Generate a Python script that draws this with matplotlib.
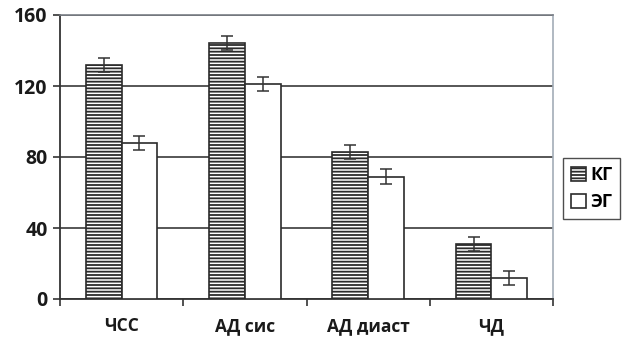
import numpy as np
from matplotlib import pyplot as plt
import matplotlib as mpl

categories = ['ЧСС', 'АД сис', 'АД диаст', 'ЧД']
kg_values = [132, 144, 83, 31]
eg_values = [88, 121, 69, 12]
kg_err = [4, 4, 4, 4]
eg_err = [4, 4, 4, 4]
y_ticks = [0, 40, 80, 120, 160]

plt.rcParams['font.family'] = ['Open Sans', 'DejaVu Sans']
plt.rcParams['font.weight'] = 'bold'
plt.rcParams['hatch.color'] = '#9ea4ae'
plt.rcParams['hatch.linewidth'] = 1.3

fig = plt.figure(figsize=(6.24, 3.45), dpi=100)
ax = fig.add_axes([60/624, 1-299/345, (553-60)/624, (299-15)/345])

x = np.arange(len(categories))
w = 0.29
err_kw = dict(ecolor='#333333', elinewidth=1.1, capsize=4, capthick=1.1)
ax.bar(x - w/2, kg_values, w, yerr=kg_err, color='white', edgecolor='#2b2b2b',
       linewidth=1.2, hatch='-----', label='КГ', error_kw=err_kw, zorder=3)
ax.bar(x + w/2, eg_values, w, yerr=eg_err, color='white', edgecolor='#2b2b2b',
       linewidth=1.2, label='ЭГ', error_kw=err_kw, zorder=3)

ax.set_xlim(-0.5, len(categories) - 0.5)
ax.set_ylim(0, 160)
ax.set_yticks(y_ticks)
ax.set_yticklabels([str(v) for v in y_ticks], fontsize=14, fontweight='bold', color='#1a1a1a')
ax.set_xticks(x)
ax.set_xticklabels(categories, fontsize=12.5, fontweight='bold', color='#1a1a1a')
ax.set_xticks(np.arange(len(categories) + 1) - 0.5, minor=True)
ax.tick_params(axis='x', which='major', length=0, pad=13)
ax.tick_params(axis='x', which='minor', length=5, width=1.2, color='#333333')
ax.tick_params(axis='y', length=5, width=1.2, color='#333333', pad=4)

ax.yaxis.grid(True, color='#3a3a3a', linewidth=1.2, zorder=0)
ax.set_axisbelow(True)
for s in ['left', 'bottom']:
    ax.spines[s].set_color('#333333')
    ax.spines[s].set_linewidth(1.3)
ax.spines['top'].set_color('#7a7f86')
ax.spines['top'].set_linewidth(1.2)
ax.spines['right'].set_color('#a3adb8')
ax.spines['right'].set_linewidth(1.2)

leg = ax.legend(loc='upper left', bbox_to_anchor=(563/624, 1-158/345),
                bbox_transform=fig.transFigure, frameon=True, fancybox=False,
                prop={'size': 13, 'weight': 'bold'}, handlelength=0.8,
                handleheight=0.8, handletextpad=0.25, labelspacing=0.5,
                borderpad=0.45, borderaxespad=0)
leg.get_frame().set_edgecolor('#222222')
leg.get_frame().set_linewidth(1.0)

fig.savefig('out.png', dpi=100)
